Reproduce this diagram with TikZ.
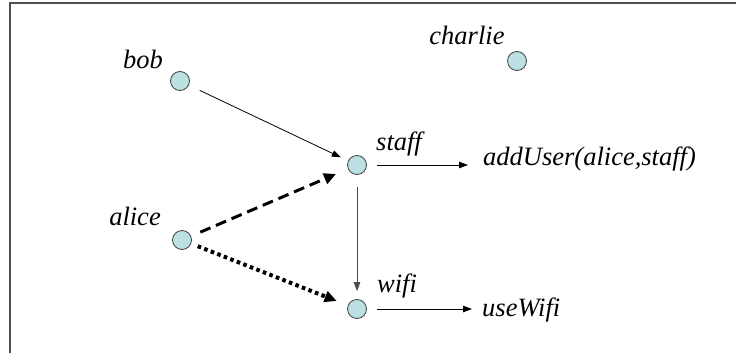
\documentclass[tikz,border=0pt]{standalone}
\usepackage{fontspec}
\setmainfont{Liberation Serif}
\usetikzlibrary{arrows.meta}
\definecolor{nodefill}{RGB}{187,225,226}
\definecolor{framegray}{RGB}{80,80,80}
\begin{document}
\begin{tikzpicture}[x=1pt,y=-1pt,
  st/.style={circle, draw=black!75, fill=nodefill, line width=0.8pt, minimum size=19pt, inner sep=0pt},
  lbl/.style={font=\fontsize{26.5}{31}\selectfont\itshape, inner sep=0pt},
  thinarrow/.style={line width=0.8pt, -{Triangle[length=9pt,width=6.5pt]}},
  dasharrow/.style={line width=3pt, dash pattern=on 11pt off 6pt, -{Triangle[length=12pt,width=11pt]}},
  dotarrow/.style={line width=4pt, dash pattern=on 3.6pt off 3.4pt, -{Triangle[length=12pt,width=11pt]}},
  frameline/.style={draw=framegray, line width=1.3pt}]
\useasboundingbox (0,0) rectangle (736,353);
\draw[frameline] (736,3) -- (10,3) -- (10,353);
% states
\node[st] (bob) at (180,81) {};
\node[st] (charlie) at (517,61) {};
\node[st] (alice) at (182,240) {};
\node[st] (staff) at (357,165) {};
\node[st] (wifi) at (357,309) {};
% labels
\node[lbl, anchor=base] (bobl) at (143,68) {bob};
\node[lbl, anchor=base] (charliel) at (467,45) {charlie};
\node[lbl, anchor=base] (alicel) at (135,225) {alice};
\node[lbl, anchor=base west] (staffl) at (376,150) {staff};
\node[lbl, anchor=base west] (wifil) at (377,292) {wifi};
\node[lbl, anchor=base west] (adduser) at (483,165) {addUser(alice,staff)};
\node[lbl, anchor=base west] (usewifi) at (482,316) {useWifi};
% connectors
\draw[thinarrow, shorten <=12pt, shorten >=8pt] (bob) -- (staff);
\draw[dasharrow, shorten <=10pt, shorten >=13pt] (alice) -- (staff);
\draw[dotarrow, shorten <=7pt, shorten >=12pt] (alice) -- (wifi);
\draw[thinarrow, draw=black!70, shorten <=12pt, shorten >=8pt] (staff) -- (wifi);
\draw[thinarrow, shorten <=10pt, shorten >=15pt] (staff) -- (staff -| adduser.west);
\draw[thinarrow, shorten <=10pt, shorten >=10pt] (wifi) -- (wifi -| usewifi.west);
\end{tikzpicture}
\end{document}
